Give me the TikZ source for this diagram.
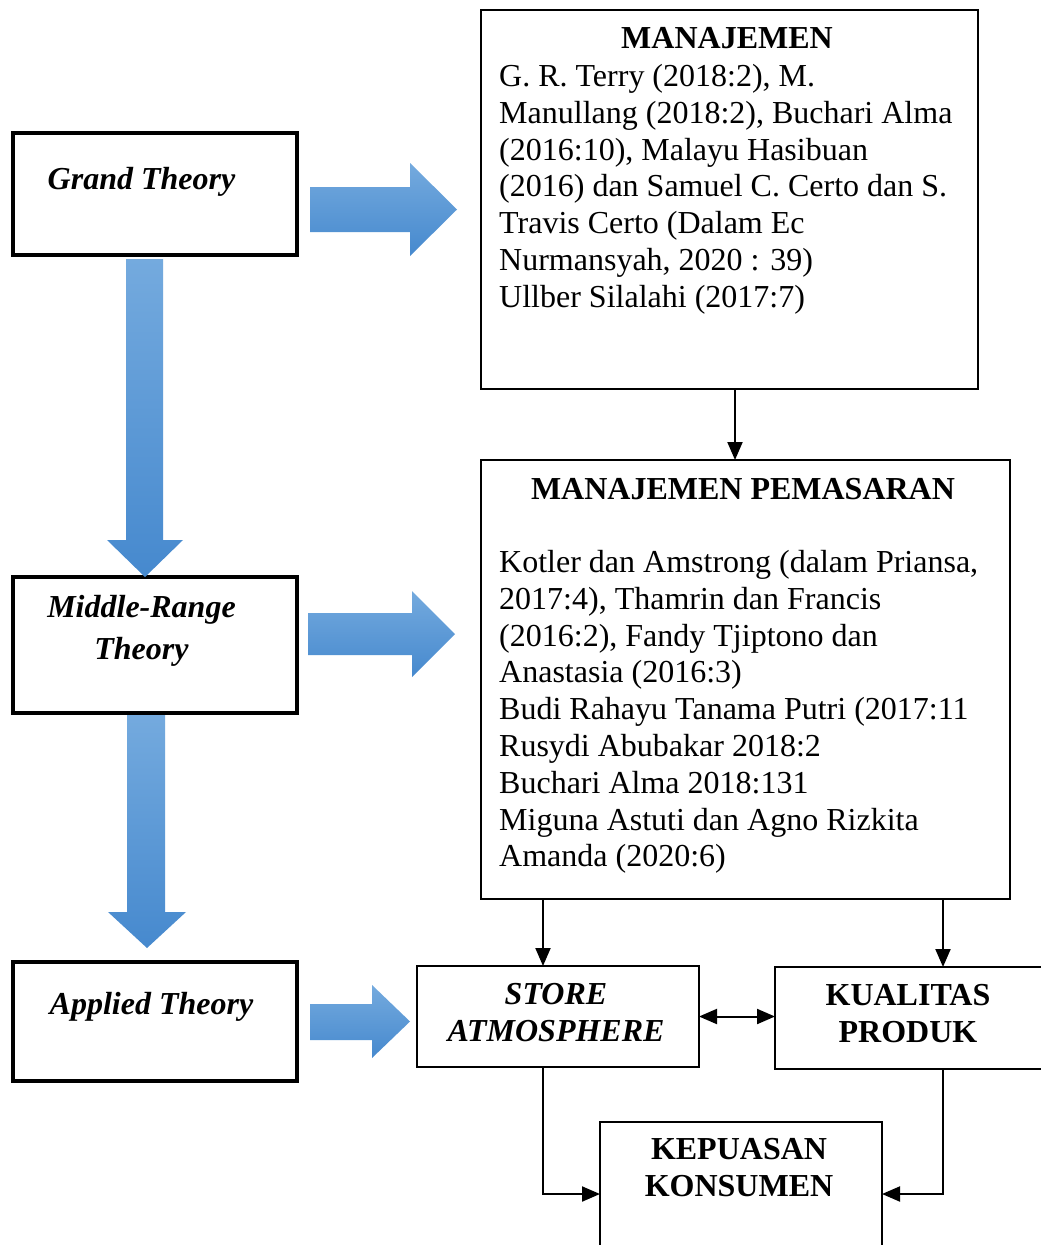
\documentclass[tikz,border=0pt]{standalone}
\usepackage{fontspec}
\setmainfont{Liberation Serif}
\usetikzlibrary{arrows.meta,calc}
\definecolor{blueT}{RGB}{116,170,222}
\definecolor{blueB}{RGB}{70,137,206}
\begin{document}
\begin{tikzpicture}[x=1pt,y=-1pt,
  thickbox/.style={draw,line width=4pt,inner sep=0pt,outer sep=0pt,anchor=north west},
  thinbox/.style={draw,line width=1.5pt,inner sep=0pt,outer sep=0pt,anchor=north west},
  txt/.style={font=\fontsize{32}{36.8}\selectfont,inner sep=0pt},
  blk/.style={top color=blueT,bottom color=blueB,draw=none},
  arr/.style={line width=2pt,-{Triangle[length=18pt,width=15pt]}},
  darr/.style={line width=2pt,{Triangle[length=18pt,width=15pt]}-{Triangle[length=18pt,width=15pt]}}
]
\clip (0,0) rectangle (1041,1245);
\fill[white] (0,0) rectangle (1041,1245);

% left boxes
\node[thickbox,minimum width=284pt,minimum height=122pt] (grand) at (13,133) {};
\node[thickbox,minimum width=284pt,minimum height=136pt] (middle) at (13,577) {};
\node[thickbox,minimum width=284pt,minimum height=119pt] (applied) at (13,962) {};
\node[txt,anchor=base,font=\fontsize{32}{36.8}\selectfont\bfseries\itshape] (grandt) at (141.5,189) {Grand Theory};
\node[txt,anchor=north,align=center,font=\fontsize{32}{42}\selectfont\bfseries\itshape] (middlet) at (141.5,595) {Middle-Range\\Theory};
\node[txt,anchor=base,font=\fontsize{32}{36.8}\selectfont\bfseries\itshape] (appliedt) at (151.5,1014) {Applied Theory};

% right boxes
\node[thinbox,minimum width=497pt,minimum height=379pt] (man) at (481,10) {};
\node[txt,anchor=base,font=\fontsize{32}{36.8}\selectfont\bfseries] (mant) at (727,48) {MANAJEMEN};
\node[txt,anchor=north west,align=left] (manb) at (499,64) {G. R. Terry (2018:2), M.\\Manullang (2018:2), Buchari Alma\\(2016:10), Malayu Hasibuan\\(2016) dan Samuel C. Certo dan S.\\Travis Certo (Dalam Ec\\Nurmansyah, 2020 : 39)\\Ullber Silalahi (2017:7)};

\node[thinbox,minimum width=529pt,minimum height=439pt] (pem) at (481,460) {};
\node[txt,anchor=base,font=\fontsize{32}{36.8}\selectfont\bfseries] (pemt) at (743,499) {MANAJEMEN PEMASARAN};
\node[txt,anchor=north west,align=left] (pemb) at (499,550) {Kotler dan Amstrong (dalam Priansa,\\2017:4), Thamrin dan Francis\\(2016:2), Fandy Tjiptono dan\\Anastasia (2016:3)\\Budi Rahayu Tanama Putri (2017:11\\Rusydi Abubakar 2018:2\\Buchari Alma 2018:131\\Miguna Astuti dan Agno Rizkita\\Amanda (2020:6)};

\node[thinbox,minimum width=282pt,minimum height=101pt] (store) at (417,966) {};
\node[txt,anchor=north,align=center,font=\fontsize{32}{36.8}\selectfont\bfseries\itshape] (storet) at (556,983) {STORE\\ATMOSPHERE};

\node[thinbox,minimum width=268pt,minimum height=102pt] (kual) at (775,967) {};
\node[txt,anchor=north,align=center,font=\fontsize{32}{37}\selectfont\bfseries] (kualt) at (908,984) {KUALITAS\\PRODUK};

\node[thinbox,minimum width=282pt,minimum height=144pt] (kep) at (600,1122) {};
\node[txt,anchor=north,align=center,font=\fontsize{32}{37}\selectfont\bfseries] (kept) at (739,1138) {KEPUASAN\\KONSUMEN};

% block arrows
\shade[blk] (310,187) -- (410,187) -- (410,163) -- (457,209.5) -- (410,256) -- (410,232) -- (310,232) -- cycle;
\shade[blk] (308,613) -- (412,613) -- (412,591) -- (455,634) -- (412,677) -- (412,655) -- (308,655) -- cycle;
\shade[blk] (310,1004) -- (372,1004) -- (372,985) -- (410,1021.5) -- (372,1058) -- (372,1040) -- (310,1040) -- cycle;
\shade[blk] (126,259) -- (163,259) -- (163,540) -- (183,540) -- (145,577) -- (107,540) -- (126,540) -- cycle;
\shade[blk] (127,715) -- (165,715) -- (165,912) -- (186,912) -- (147,948) -- (108,912) -- (127,912) -- cycle;

% connectors
\draw[arr] ([xshift=5.5pt]man.south) -- ([xshift=5.5pt]man.south |- pem.north);
\draw[arr] ([xshift=-15pt]store.north |- pem.south) -- ([xshift=-15pt]store.north);
\draw[arr] ([xshift=34pt]kual.north |- pem.south) -- ([xshift=34pt]kual.north);
\draw[darr] (store.east) -- (store.east -| kual.west);
\draw[arr] ([xshift=-15pt]store.south) |- (kep.west);
\draw[arr] ([xshift=34pt]kual.south) |- (kep.east);
\end{tikzpicture}
\end{document}
